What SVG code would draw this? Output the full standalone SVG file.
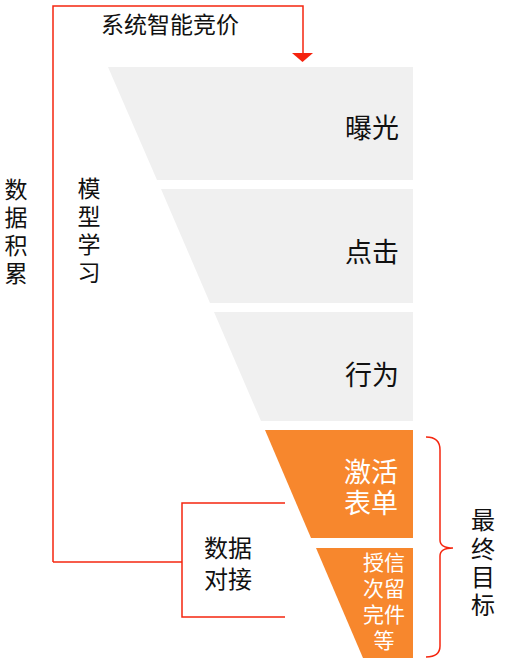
<svg xmlns="http://www.w3.org/2000/svg" width="507" height="665" viewBox="0 0 507 665">
<style>
text{font-family:"Noto Sans CJK SC","Noto Sans CJK JP",sans-serif;fill:#111}
.gray{fill:#f0f0f0}
.orange{fill:#f7872d}
.ln{fill:none;stroke:#f5260f;stroke-width:1.5}
.w{fill:#fff}
.st{text-anchor:middle}
</style>
<rect width="507" height="665" fill="#fff"/>
<g id="connectors">
<polyline class="ln" points="53,562 53,6 303,6 303,54"/>
<polygon points="292,53 313,53 302.5,62" fill="#f5230e"/>
<polyline class="ln" points="53,562 182,562"/>
<polyline class="ln" points="285,503 182,503 182,617 285,617"/>
<path class="ln" d="M426,437 Q440,437 440,450 L440,540 Q440,548 453,548 Q440,548 440,556 L440,646 Q440,657 426,657"/>
</g>
<g id="exposure">
<polygon class="gray" points="108,67 413,67 413,180 157,180"/>
<text x="399" y="138" font-size="27" text-anchor="end">曝光</text>
</g>
<g id="click">
<polygon class="gray" points="161,189 413,189 413,303 210,303"/>
<text x="399" y="262" font-size="27" text-anchor="end">点击</text>
</g>
<g id="behavior">
<polygon class="gray" points="214,312 413,312 413,421 261,421"/>
<text x="399" y="385" font-size="27" text-anchor="end">行为</text>
</g>
<g id="activation">
<polygon class="orange" points="265,430 413,430 413,538 311,538"/>
<text class="w st" font-size="27"><tspan x="371" y="482">激活</tspan><tspan x="371" y="513">表单</tspan></text>
</g>
<g id="credit">
<polygon class="orange" points="316,548 413,548 413,658 363,658"/>
<text class="w st" font-size="21"><tspan x="384" y="570">授信</tspan><tspan x="384" y="596">次留</tspan><tspan x="384" y="622">完件</tspan><tspan x="384" y="648">等</tspan></text>
</g>
<g id="bidding">
<text x="170" y="33" font-size="23" class="st">系统智能竞价</text>
</g>
<g id="data-accumulation">
<text class="st" font-size="23"><tspan x="16" y="198">数</tspan><tspan x="16" y="226">据</tspan><tspan x="16" y="254">积</tspan><tspan x="16" y="282">累</tspan></text>
</g>
<g id="model-learning">
<text class="st" font-size="23"><tspan x="89" y="197">模</tspan><tspan x="89" y="225">型</tspan><tspan x="89" y="253">学</tspan><tspan x="89" y="281">习</tspan></text>
</g>
<g id="data-docking">
<text font-size="24"><tspan x="204" y="557">数据</tspan><tspan x="204" y="588">对接</tspan></text>
</g>
<g id="final-goal">
<text class="st" font-size="24"><tspan x="483" y="529">最</tspan><tspan x="483" y="558">终</tspan><tspan x="483" y="586">目</tspan><tspan x="483" y="614">标</tspan></text>
</g>
</svg>
